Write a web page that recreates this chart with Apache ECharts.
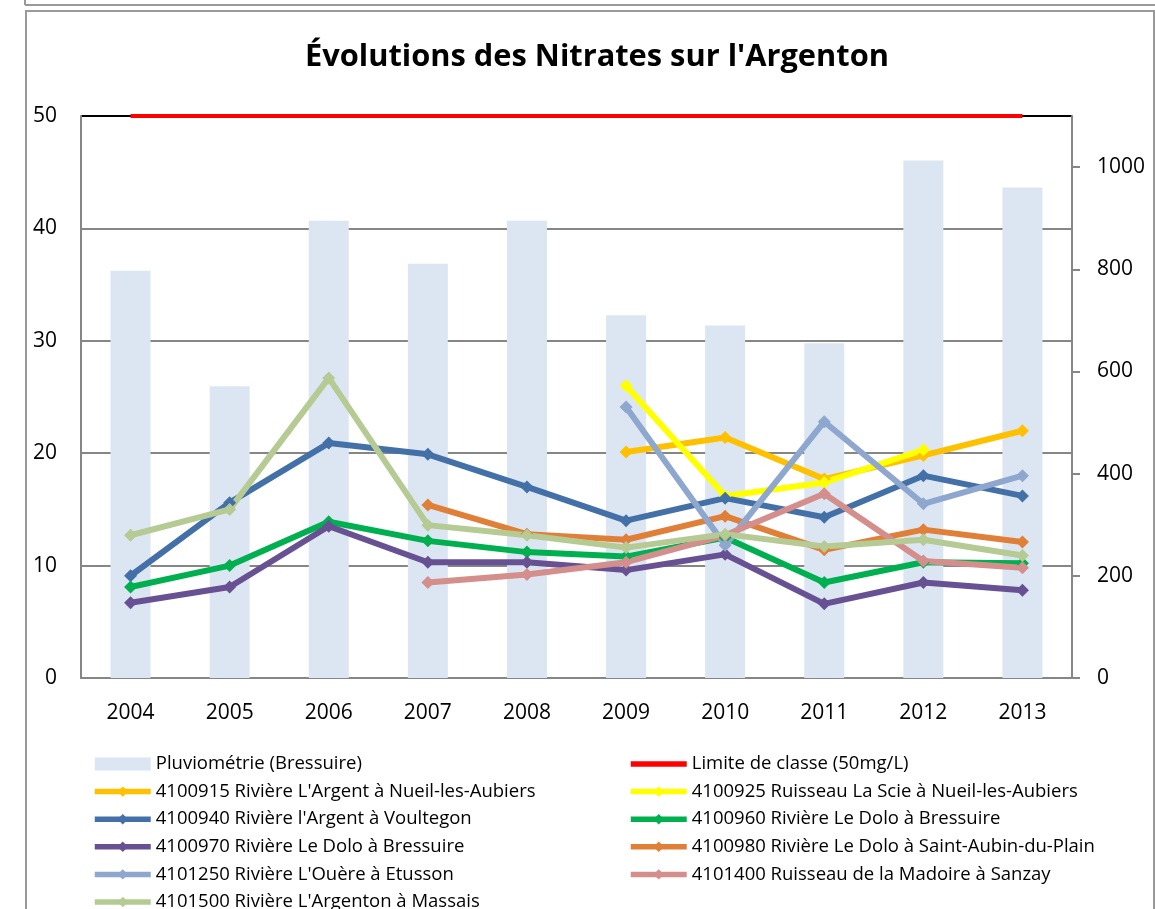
<!DOCTYPE html>
<html>
<head>
<meta charset="utf-8">
<script src="https://cdn.jsdelivr.net/npm/echarts@6/dist/echarts.min.js"></script>
<style>
html,body{margin:0;padding:0;background:#fff;}
#c{width:1155px;height:909px;}
</style>
</head>
<body>
<div id="c"></div>
<script>
const years = ['2004','2005','2006','2007','2008','2009','2010','2011','2012','2013'];
const pluvio = [797, 571, 895, 811, 895, 710, 690, 655, 1013, 960];
const limite = [50, 50, 50, 50, 50, 50, 50, 50, 50, 50];
const s4100915 = [null, null, null, null, null, 20.1, 21.4, 17.7, 19.8, 22.0];
const s4100925 = [null, null, null, null, null, 26.0, 16.2, 17.4, 20.3, null];
const s4100940 = [9.1, 15.6, 20.9, 19.9, 17.0, 14.0, 16.0, 14.3, 18.0, 16.2];
const s4100960 = [8.1, 10.0, 13.9, 12.2, 11.2, 10.8, 12.5, 8.5, 10.3, 10.2];
const s4100970 = [6.7, 8.1, 13.5, 10.3, 10.3, 9.6, 11.0, 6.6, 8.5, 7.8];
const s4100980 = [null, null, null, 15.4, 12.8, 12.3, 14.4, 11.4, 13.2, 12.1];
const s4101250 = [null, null, null, null, null, 24.1, 11.8, 22.8, 15.5, 18.0];
const s4101400 = [null, null, null, 8.5, 9.2, 10.3, 12.7, 16.4, 10.4, 9.8];
const s4101500 = [12.7, 15.0, 26.7, 13.6, 12.7, 11.6, 12.8, 11.7, 12.3, 10.9];
const leftTicks = [0, 10, 20, 30, 40, 50];
const rightTicks = [0, 200, 400, 600, 800, 1000];

const names = {
  pluvio: 'Pluviométrie (Bressuire)',
  limite: 'Limite de classe (50mg/L)',
  a: '4100915 Rivière L\'Argent à Nueil-les-Aubiers',
  b: '4100925 Ruisseau La Scie à Nueil-les-Aubiers',
  c: '4100940 Rivière l\'Argent à Voultegon',
  d: '4100960 Rivière Le Dolo à Bressuire',
  e: '4100970 Rivière Le Dolo à Bressuire',
  f: '4100980 Rivière Le Dolo à Saint-Aubin-du-Plain',
  g: '4101250 Rivière L\'Ouère à Etusson',
  h: '4101400 Ruisseau de la Madoire à Sanzay',
  i: '4101500 Rivière L\'Argenton à Massais'
};

function lineSeries(name, data, color) {
  return {
    name: name, type: 'line', data: data, yAxisIndex: 0,
    symbol: 'diamond', symbolSize: 13, connectNulls: false,
    lineStyle: { color: color, width: 6 },
    itemStyle: { color: color },
    emphasis: { disabled: true }, animation: false
  };
}

const FONT = 'Open Sans';
const legendCommon = {
  orient: 'vertical', top: 754, height: 260, padding: 0,
  itemWidth: 56, itemHeight: 13, itemGap: 7.6,
  lineStyle: { width: 5.5 },
  textStyle: { fontFamily: FONT, fontSize: 18.5, color: '#000', lineHeight: 20 }
};
const chart = echarts.init(document.getElementById('c'));
chart.setOption({
  animation: false,
  backgroundColor: '#fff',
  title: {
    text: 'Évolutions des Nitrates sur l\'Argenton',
    left: 300, top: 37,
    textStyle: { fontFamily: FONT, fontWeight: 'bold', fontSize: 30.8, color: '#000' }
  },
  graphic: [
    { type: 'line', shape: { x1: 25, y1: 5, x2: 1155, y2: 5 }, style: { stroke: '#999', lineWidth: 2 } },
    { type: 'line', shape: { x1: 25, y1: 0, x2: 25, y2: 5 }, style: { stroke: '#999', lineWidth: 2 } },
    { type: 'rect', shape: { x: 26, y: 11, width: 1128, height: 910 }, style: { fill: null, stroke: '#999', lineWidth: 2 } }
  ],
  grid: { left: 81, right: 83, top: 116, bottom: 231 },
  legend: [
    Object.assign({}, legendCommon, {
      left: 92,
      data: [{ name: names.pluvio, icon: 'rect' }, names.a, names.c, names.e, names.g, names.i]
    }),
    Object.assign({}, legendCommon, {
      left: 628,
      data: [{ name: names.limite, itemStyle: { color: 'rgba(0,0,0,0)', borderWidth: 0 } }, names.b, names.d, names.f, names.h]
    })
  ],
  xAxis: {
    type: 'category', data: years, boundaryGap: true,
    axisLine: { lineStyle: { color: '#868686', width: 2 } },
    axisTick: { show: false },
    axisLabel: { fontFamily: FONT, fontSize: 21, color: '#000', margin: 25 }
  },
  yAxis: [
    {
      type: 'value', min: 0, max: 50, interval: 10, position: 'left',
      axisLine: { show: true, lineStyle: { color: '#868686', width: 2 } },
      axisTick: { show: false },
      axisLabel: { fontFamily: FONT, fontSize: 21, color: '#000', margin: 24 },
      splitLine: { show: true, lineStyle: { color: ['#868686', '#868686', '#868686', '#868686', '#868686', '#000'], width: 2 } }
    },
    {
      type: 'value', min: 0, max: 1100, interval: 100, position: 'right',
      axisLine: { show: true, lineStyle: { color: '#868686', width: 2 } },
      axisTick: { show: true, inside: false, length: 8, lineStyle: { color: '#868686', width: 2 }, customValues: rightTicks },
      axisLabel: { fontFamily: FONT, fontSize: 21, color: '#000', margin: 25, customValues: rightTicks,
        formatter: function (v) { return rightTicks.indexOf(v) >= 0 ? String(v) : ''; } },
      splitLine: { show: false }
    }
  ],
  series: [
    {
      name: names.pluvio, type: 'bar', data: pluvio, yAxisIndex: 1, barWidth: 40,
      itemStyle: { color: '#DCE6F2' }, emphasis: { disabled: true }
    },
    {
      name: names.limite, type: 'line', data: limite, yAxisIndex: 0, symbol: 'none',
      lineStyle: { color: '#FF0000', width: 4 }, itemStyle: { color: '#FF0000' }, emphasis: { disabled: true }
    },
    lineSeries(names.a, s4100915, '#FFC000'),
    lineSeries(names.b, s4100925, '#FFFF00'),
    lineSeries(names.c, s4100940, '#4470A8'),
    lineSeries(names.d, s4100960, '#00B050'),
    lineSeries(names.e, s4100970, '#685192'),
    lineSeries(names.f, s4100980, '#E07F38'),
    lineSeries(names.g, s4101250, '#8EA7CF'),
    lineSeries(names.h, s4101400, '#D48E8C'),
    lineSeries(names.i, s4101500, '#B5CB93')
  ]
});
</script>
</body>
</html>
